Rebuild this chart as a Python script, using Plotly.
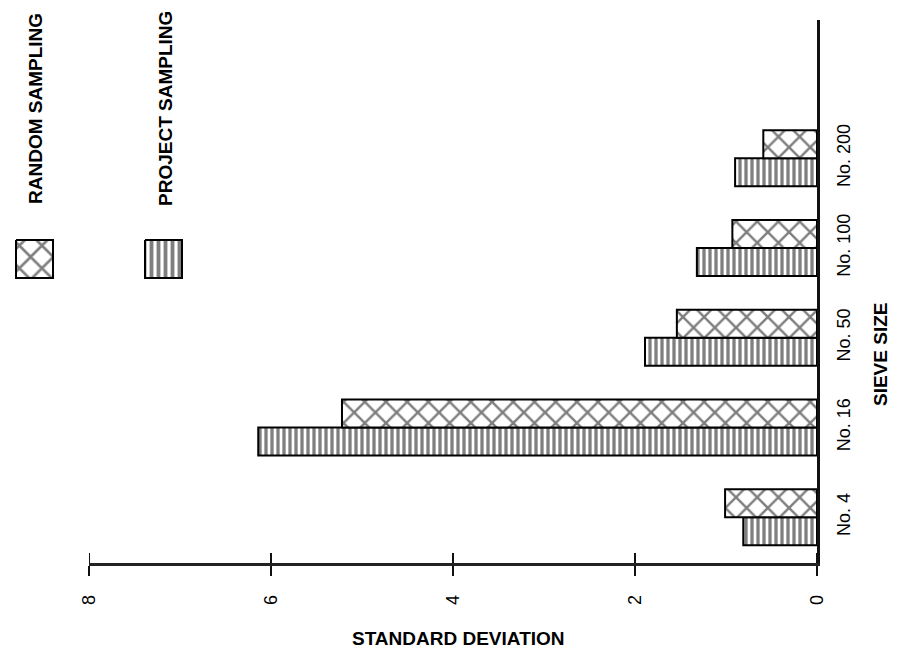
import plotly.graph_objects as go

# data
sieve = ["No. 4", "No. 16", "No. 50", "No. 100", "No. 200"]
random_sampling = [1.01, 5.22, 1.54, 0.93, 0.59]
project_sampling = [0.81, 6.14, 1.89, 1.32, 0.90]
dev_ticks = [0, 2, 4, 6, 8]

# the page body keeps an 8px margin, so the figure is 8px smaller and all
# positions below are given in window pixels and shifted back
OFF = 8
W, H = 899 - OFF, 667 - OFF
FONT = "Liberation Sans, Arial, sans-serif"

def px(x):
    return (x - OFF) / W

def py(y):
    return 1 - (y - OFF) / H

CROSS = dict(shape="x", fgcolor="black", bgcolor="white", size=15, solidity=0.3)
STRIPE = dict(shape="|", fgcolor="black", bgcolor="white", size=6, solidity=0.55)

fig = go.Figure()

# bars (page is turned, so bars run right to left)
fig.add_trace(go.Bar(
    y=sieve, x=project_sampling, orientation="h", name="PROJECT SAMPLING",
    marker=dict(color="white", line=dict(color="black", width=2), pattern=STRIPE),
))
fig.add_trace(go.Bar(
    y=sieve, x=random_sampling, orientation="h", name="RANDOM SAMPLING",
    marker=dict(color="white", line=dict(color="black", width=2), pattern=CROSS),
))

# legend swatches, drawn on a pixel-sized helper axis
def box(x0, y0, x1, y1):
    return [x0, x1, x1, x0, x0], [y0, y0, y1, y1, y0]

bx, by = box(16, 240, 53, 278)
fig.add_trace(go.Scatter(x=bx, y=by, xaxis="x3", yaxis="y3", fill="toself", mode="lines",
                         line=dict(color="black", width=2), fillcolor="white",
                         fillpattern=dict(CROSS, size=16),
                         showlegend=False, hoverinfo="skip"))
bx, by = box(145, 240, 182, 278)
fig.add_trace(go.Scatter(x=bx, y=by, xaxis="x3", yaxis="y3", fill="toself", mode="lines",
                         line=dict(color="black", width=2), fillcolor="white",
                         fillpattern=dict(STRIPE, size=7),
                         showlegend=False, hoverinfo="skip"))

x0, x1 = px(89), px(817)
y0, y1 = py(563), py(20)

fig.update_layout(
    width=W, height=H,
    margin=dict(l=0, r=0, t=0, b=0),
    paper_bgcolor="white", plot_bgcolor="rgba(0,0,0,0)",
    barmode="group", bargap=0.376, bargroupgap=0,
    showlegend=False,
    font=dict(family=FONT, color="black"),
    xaxis=dict(domain=[x0, x1], range=[8, 0], tickvals=dev_ticks, ticktext=[str(t) for t in dev_ticks],
               showline=True, linecolor="#222", linewidth=2.5, showgrid=False, zeroline=False,
               ticks="outside", ticklen=10, tickwidth=2, tickcolor="#111",
               tickangle=-90, tickfont=dict(family=FONT, size=18, color="black"),
               ticklabelstandoff=12, automargin=False),
    yaxis=dict(domain=[y0, y1], range=[-0.51, 5.54], side="right", anchor="x",
               showline=True, linecolor="#111", linewidth=3, showgrid=False, zeroline=False,
               ticks="", tickangle=-90, tickfont=dict(family=FONT, size=18, color="black"),
               ticklabelstandoff=8, automargin=False),
    xaxis3=dict(domain=[0, 1], range=[OFF, 899], visible=False, anchor="y3", fixedrange=True),
    yaxis3=dict(domain=[0, 1], range=[667, OFF], visible=False, anchor="x3", fixedrange=True),
)

# upper half of the crossing tick marks
for t in dev_ticks:
    fig.add_shape(type="line", xref="x", yref="paper", x0=t, x1=t, y0=y0, y1=y0 + 10 / H,
                  line=dict(color="#111", width=2))

ann = dict(xref="paper", yref="paper", showarrow=False, xanchor="center", yanchor="middle")
big = dict(family=FONT, size=19, color="black")
fig.add_annotation(text="<b>RANDOM SAMPLING</b>", x=px(35), y=py(109), textangle=-90, font=big, **ann)
fig.add_annotation(text="<b>PROJECT SAMPLING</b>", x=px(165), y=py(109), textangle=-90, font=big, **ann)
fig.add_annotation(text="<b>SIEVE SIZE</b>", x=px(880), y=py(355), textangle=-90, font=big, **ann)
fig.add_annotation(text="<b>STANDARD DEVIATION</b>", x=px(458), y=py(638), font=big, **ann)

fig.write_html("out.html")
